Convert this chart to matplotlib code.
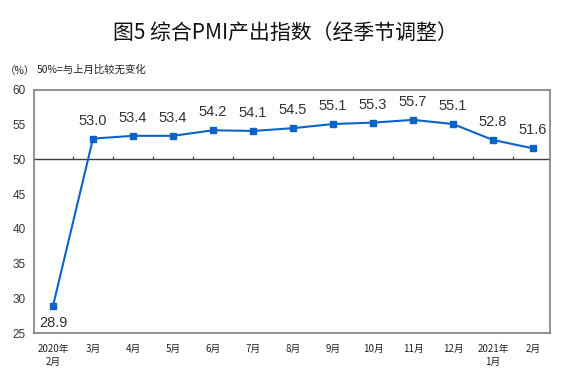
import matplotlib
matplotlib.use("Agg")
import matplotlib.pyplot as plt
import numpy as np

plt.rcParams['font.family'] = ['Noto Sans CJK SC', 'DejaVu Sans']

categories = ["2020年\n2月", "3月", "4月", "5月", "6月", "7月", "8月", "9月",
              "10月", "11月", "12月", "2021年\n1月", "2月"]
values = [28.9, 53.0, 53.4, 53.4, 54.2, 54.1, 54.5, 55.1, 55.3, 55.7, 55.1, 52.8, 51.6]
yticks = [25, 30, 35, 40, 45, 50, 55, 60]

fig = plt.figure(figsize=(5.7, 3.78), dpi=100)
ax = fig.add_axes([34/570, 1-333/378, (550-34)/570, (333-90)/378])

x = np.arange(len(values))
color = '#0a64c8'
ax.plot(x, values, color=color, lw=1.5, marker='s', ms=4.5, zorder=3)

for xi, v in zip(x, values):
    dy = -12 if v < 50 else 13
    ax.annotate(f"{v:.1f}", (xi, v), xytext=(0, dy), textcoords='offset points',
                ha='center', va='center', fontsize=10.5, color='#333333',
                family='Liberation Sans')

ax.set_ylim(25, 60)
ax.set_xlim(-0.475, len(values) - 0.575)
ax.set_yticks(yticks)
ax.set_yticklabels([str(t) for t in yticks], fontsize=8.5, color='#333333',
                   family='Liberation Sans')
ax.tick_params(axis='y', length=0, pad=6)
ax.set_xticks(x)
ax.set_xticklabels(categories, fontsize=7, color='#222222', linespacing=1.3)
ax.tick_params(axis='x', length=0, pad=8)

for s in ax.spines.values():
    s.set_color('#808080')
    s.set_linewidth(1.2)

ax.axhline(50, color='#404040', lw=1.0, zorder=2)
bounds = x[:-1] + 0.5
ax.vlines(bounds, 50, 50.55, color='#404040', lw=0.9, zorder=2)

fig.text(0.5, 1-33/378, "图5 综合PMI产出指数（经季节调整）", ha='center', va='center',
         fontsize=15, color='#111111', fontweight='medium')
fig.text(5/570, 1-71/378, "（%）", ha='left', va='center', fontsize=7.5, color='#222222')
fig.text(37/570, 1-70/378, "50%=与上月比较无变化", ha='left', va='center', fontsize=7.5,
         color='#222222')

fig.savefig("out.png", dpi=100)
